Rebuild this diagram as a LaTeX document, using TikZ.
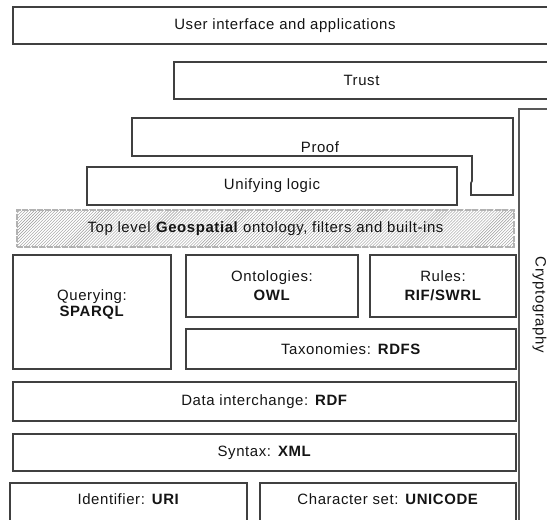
\documentclass[tikz,border=0pt]{standalone}
\usepackage{fontspec}
\setmainfont{Liberation Sans}[LetterSpace=4]
\usetikzlibrary{patterns}
\tikzset{
  txt/.style={font=\fontsize{15}{17}\selectfont, text=black!92, align=center, inner sep=0pt},
  box/.style={txt, draw=black!75, line width=1.7bp, rectangle, outer sep=0pt},
  hatchbox/.style={txt, rectangle, outer sep=0pt, draw=black!30, line width=2.5bp,
    dash pattern=on 6bp off 1.5bp, pattern=north east lines, pattern color=black!40},
  proofline/.style={draw=black!75, line width=1.7bp, line join=miter},
  cryptoline/.style={draw=black!65, line width=2bp},
}
\begin{document}
\begin{tikzpicture}[x=1bp,y=-1bp]
\fill[white] (0,0) rectangle (547,520);
\useasboundingbox (0,0) rectangle (547,520);

% top layers
\node[box, minimum width=544bp, minimum height=37bp] (ui) at (285,25.5) {User interface and applications};
\node[box, minimum width=375bp, minimum height=37bp] (trust) at (361.5,80.5) {Trust};

% proof (stepped outline)
\coordinate (p1) at (132,118);
\coordinate (p2) at (513,118);
\coordinate (p3) at (513,195);
\coordinate (p4) at (471,195);
\coordinate (p5) at (471,183);
\coordinate (p6) at (472,181);
\coordinate (p7) at (472,156);
\coordinate (p8) at (132,156);
\path[proofline] (p1) -- (p2) -- (p3) -- (p4) -- (p5) -- (p6) -- (p7) -- (p8) -- cycle;
\node[txt] (proof) at (320,147) {Proof};

\node[box, minimum width=370bp, minimum height=38bp] (unify) at (272,186) {Unifying logic};
\node[hatchbox, minimum width=497bp, minimum height=37bp] (geo) at (265.5,228.5)
  {Top level \textbf{Geospatial} ontology, filters and built-ins};

% middle block
\node[box, minimum width=158bp, minimum height=114bp] (query) at (92,312) {};
\node[txt] (querytxt) at (92,305) {Querying:\\[-1pt]\textbf{SPARQL}};
\node[box, minimum width=172bp, minimum height=62bp] (onto) at (272,286) {Ontologies:\\[2pt]\textbf{OWL}};
\node[box, minimum width=146bp, minimum height=62bp] (rules) at (443,286) {Rules:\\[2pt]\textbf{RIF/SWRL}};
\node[box, minimum width=330bp, minimum height=40bp] (tax) at (351,349) {Taxonomies: \textbf{RDFS}};

% lower layers
\node[box, minimum width=503bp, minimum height=39bp] (data) at (264.5,401.5) {Data interchange: \textbf{RDF}};
\node[box, minimum width=503bp, minimum height=37bp] (syntax) at (264.5,452.5) {Syntax: \textbf{XML}};
\node[box, minimum width=237bp, minimum height=40bp] (ident) at (128.5,503) {};
\node[txt] (identtxt) at (128.5,499) {Identifier: \textbf{URI}};
\node[box, minimum width=256bp, minimum height=40bp] (charset) at (388,503) {};
\node[txt] (chartxt) at (388,499) {Character set: \textbf{UNICODE}};

% cryptography column
\coordinate (cb) at (519,526);
\coordinate (ct) at (519,109);
\coordinate (cr) at (553,109);
\draw[cryptoline] (cb) -- (ct) -- (cr);
\node[txt, rotate=-90] (crypto) at (539.5,305) {Cryptography};
\end{tikzpicture}
\end{document}
